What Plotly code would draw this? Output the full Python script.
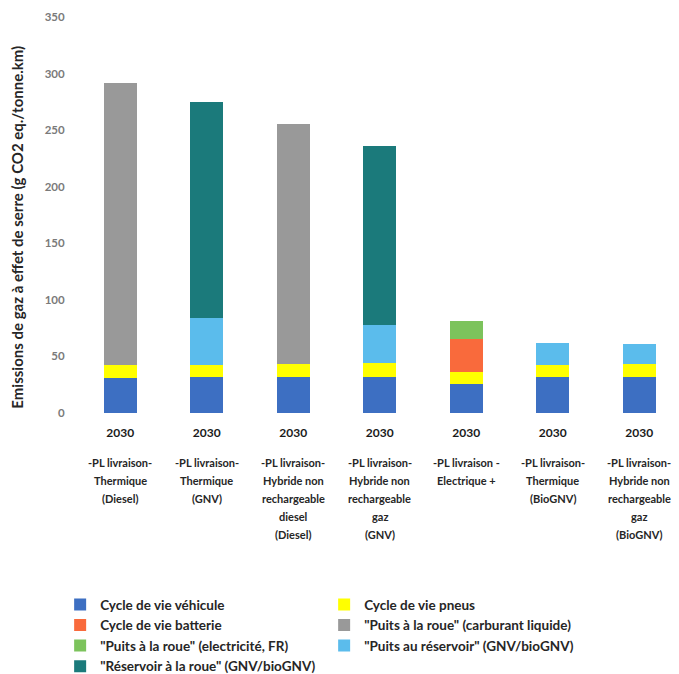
import plotly.graph_objects as go

# Categories (one entry per bar): year label + multi-line vehicle description
years = ["2030"] * 7
vehicles = [
    ["-PL livraison-", "Thermique", "(Diesel)"],
    ["-PL livraison-", "Thermique", "(GNV)"],
    ["-PL livraison-", "Hybride non", "rechargeable", "diesel", "(Diesel)"],
    ["-PL livraison-", "Hybride non", "rechargeable", "gaz", "(GNV)"],
    ["-PL livraison -", "Electrique +"],
    ["-PL livraison-", "Thermique", "(BioGNV)"],
    ["-PL livraison-", "Hybride non", "rechargeable", "gaz", "(BioGNV)"],
]

# Emission components, g CO2 eq./tonne.km
cycle_vehicule = [31, 32, 32, 32, 26, 32, 32]
cycle_pneus = [11, 10, 11, 12, 10, 10, 11]
cycle_batterie = [0, 0, 0, 0, 29, 0, 0]
puits_roue_liquide = [250, 0, 212, 0, 0, 0, 0]
puits_roue_elec = [0, 0, 0, 0, 16, 0, 0]
puits_reservoir = [0, 42, 0, 34, 0, 20, 18]
reservoir_roue = [0, 191, 0, 158, 0, 0, 0]

y_ticks = [0, 50, 100, 150, 200, 250, 300, 350]

series = [
    ("Cycle de vie véhicule", cycle_vehicule, "#3d6fc2"),
    ("Cycle de vie pneus", cycle_pneus, "#ffff00"),
    ("Cycle de vie batterie", cycle_batterie, "#f96a3c"),
    ("\"Puits à la roue\" (carburant liquide)", puits_roue_liquide, "#999999"),
    ("\"Puits à la roue\" (electricité, FR)", puits_roue_elec, "#7cc35c"),
    ("\"Puits au réservoir\" (GNV/bioGNV)", puits_reservoir, "#5bbcec"),
    ("\"Réservoir à la roue\" (GNV/bioGNV)", reservoir_roue, "#1b7a7b"),
]

FONT = "Lato"
x_idx = list(range(len(years)))

fig = go.Figure()
for name, vals, color in series:
    fig.add_trace(go.Bar(
        x=x_idx, y=vals, name=name,
        marker=dict(color=color, line=dict(width=0)),
    ))

# Vehicle description lines below the year ticks
annotations = []
for i, lines in enumerate(vehicles):
    for j, line in enumerate(lines):
        annotations.append(dict(
            x=i, xref="x", y=-0.126, yref="paper",
            text=f"<b>{line}</b>", showarrow=False,
            yanchor="middle", xanchor="center", yshift=-18 * j,
            font=dict(family=FONT, size=11, color="#262626"),
        ))

# Y-axis title
annotations.append(dict(
    x=-0.1, xref="paper", y=0.47, yref="paper",
    text="<b>Emissions de gaz à effet de serre (g CO2 eq./tonne.km)</b>",
    showarrow=False, textangle=-90, xanchor="center", yanchor="middle",
    font=dict(family=FONT, size=15, color="#262626"),
))

fig.update_layout(
    width=679, height=674,
    margin=dict(l=77, r=0, t=17, b=261, autoexpand=False),
    barmode="stack", bargap=0.62,
    paper_bgcolor="white", plot_bgcolor="white",
    font=dict(family=FONT),
    showlegend=True,
    legend=dict(
        orientation="h", x=-0.028, y=-0.445, xanchor="left", yanchor="top",
        entrywidth=219, entrywidthmode="pixels", itemwidth=30,
        font=dict(family=FONT, size=13.5, color="#262626", weight="bold"),
        traceorder="normal",
    ),
    xaxis=dict(
        range=[-0.5, 6.46], tickmode="array", tickvals=x_idx,
        ticktext=[f"<b>{y}</b>" for y in years],
        tickfont=dict(family=FONT, size=12, color="#1a1a1a"),
        showgrid=False, zeroline=False, showline=False,
        ticks="outside", ticklen=9, tickcolor="rgba(0,0,0,0)",
    ),
    yaxis=dict(
        range=[0, 350], tickmode="array", tickvals=y_ticks,
        ticktext=[f"<b>{v}</b>" for v in y_ticks],
        tickfont=dict(family=FONT, size=11.5, color="#7a7a7a"),
        showgrid=False, zeroline=False, showline=False,
        ticks="outside", ticklen=9, tickcolor="rgba(0,0,0,0)",
    ),
    annotations=annotations,
)

fig.write_html("out.html")
